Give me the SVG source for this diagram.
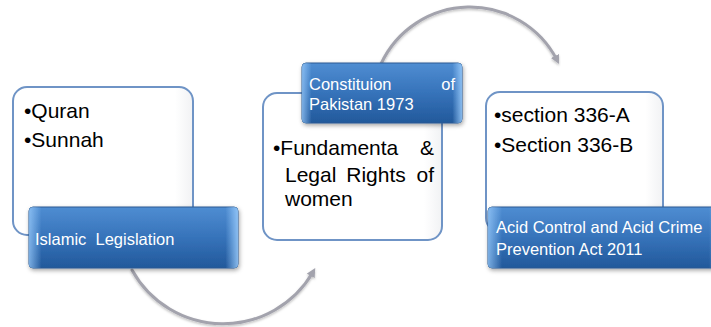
<svg xmlns="http://www.w3.org/2000/svg" width="711" height="327" viewBox="0 0 711 327">
<style>
.card{fill:url(#cardFill);stroke:#6f94c6;stroke-width:2}
.bar{fill:url(#barFill);stroke:#2b5b93;stroke-width:1}
.gloss{fill:url(#barGloss)}
.body{font-family:"Liberation Sans",Arial,sans-serif;font-size:21px;fill:#000}
.lbl{font-family:"Liberation Sans",Arial,sans-serif;font-size:16.5px;fill:#ffffff}
.arc{fill:none;stroke:#a3a3ad;stroke-width:3;stroke-linecap:round}
</style>
<defs>
<linearGradient id="cardFill" x1="0" y1="0" x2="1" y2="0">
<stop offset="0" stop-color="#ffffff"/>
<stop offset="0.9" stop-color="#ffffff"/>
<stop offset="1" stop-color="#f1f2f4"/>
</linearGradient>
<linearGradient id="barFill" x1="0" y1="0" x2="0" y2="1">
<stop offset="0" stop-color="#4f8dd2"/>
<stop offset="0.5" stop-color="#3673ba"/>
<stop offset="1" stop-color="#22599b"/>
</linearGradient>
<linearGradient id="barGloss" x1="0" y1="0" x2="1" y2="0">
<stop offset="0" stop-color="#9fd0ff" stop-opacity="0.7"/>
<stop offset="0.06" stop-color="#9fd0ff" stop-opacity="0"/>
<stop offset="0.94" stop-color="#9fd0ff" stop-opacity="0"/>
<stop offset="1" stop-color="#9fd0ff" stop-opacity="0.8"/>
</linearGradient>
<filter id="shadow" x="-10%" y="-10%" width="130%" height="140%">
<feDropShadow dx="1" dy="2" stdDeviation="2" flood-color="#000" flood-opacity="0.35"/>
</filter>
<filter id="arcShadow" x="-10%" y="-10%" width="130%" height="130%">
<feDropShadow dx="0" dy="1.5" stdDeviation="1.2" flood-color="#000" flood-opacity="0.25"/>
</filter>
<marker id="head" viewBox="0 0 10 10" refX="5" refY="5" markerWidth="3" markerHeight="3" orient="auto">
<path d="M0,0 L10,5 L0,10 Z" fill="#a3a3ad"/>
</marker>
</defs>
<g id="connectors" filter="url(#arcShadow)">
<path class="arc" d="M132 270 A104 104 0 0 0 313 272" marker-end="url(#head)"/>
<path class="arc" d="M381 64 A98 98 0 0 1 557 60" marker-end="url(#head)"/>
</g>
<g id="node-islamic">
<rect class="card" x="13" y="87" width="180" height="148" rx="14"/>
<text class="body" x="24" y="118">•Quran</text>
<text class="body" x="24" y="147">•Sunnah</text>
<g filter="url(#shadow)">
<rect class="bar" x="29" y="207" width="209" height="61" rx="4"/>
<rect class="gloss" x="29" y="207" width="209" height="61" rx="4"/>
</g>
<text class="lbl" x="35" y="245" xml:space="preserve">Islamic  Legislation</text>
</g>
<g id="node-constitution">
<rect class="card" x="263" y="93" width="179" height="147" rx="14"/>
<text class="body" x="273" y="155">•Fundamenta</text>
<text class="body" x="434" y="155" text-anchor="end">&amp;</text>
<text class="body" x="285" y="182">Legal</text>
<text class="body" x="376" y="182" text-anchor="middle">Rights</text>
<text class="body" x="434" y="182" text-anchor="end">of</text>
<text class="body" x="285" y="206">women</text>
<g filter="url(#shadow)">
<rect class="bar" x="302" y="63" width="160" height="60" rx="4"/>
<rect class="gloss" x="302" y="63" width="160" height="60" rx="4"/>
</g>
<text class="lbl" x="309" y="90">Constituion</text>
<text class="lbl" x="455" y="90" text-anchor="end">of</text>
<text class="lbl" x="309" y="110">Pakistan 1973</text>
</g>
<g id="node-acid">
<rect class="card" x="486" y="92" width="177" height="140" rx="14"/>
<text class="body" x="494" y="122">•section 336-A</text>
<text class="body" x="494" y="152">•Section 336-B</text>
<g filter="url(#shadow)">
<rect class="bar" x="488" y="207" width="235" height="61" rx="4"/>
<rect class="gloss" x="488" y="207" width="235" height="61" rx="4"/>
</g>
<text class="lbl" x="496" y="233">Acid Control and Acid Crime</text>
<text class="lbl" x="496" y="255">Prevention Act 2011</text>
</g>
</svg>
